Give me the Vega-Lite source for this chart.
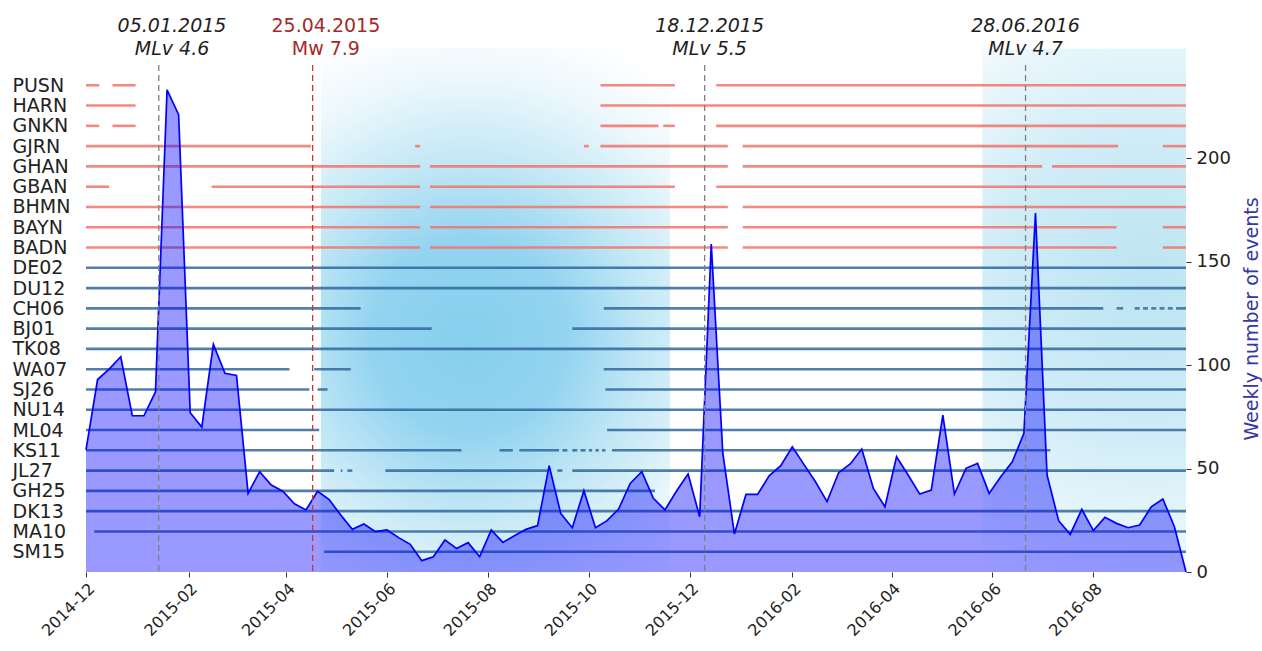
{
  "$schema": "https://vega.github.io/schema/vega-lite/v6.json",
  "width": 1100,
  "height": 507,
  "autosize": {"type": "none"},
  "padding": {"left": 86, "top": 65, "right": 76, "bottom": 79},
  "background": "white",
  "config": {
    "view": {"stroke": null},
    "font": "DejaVu Sans",
    "axis": {"grid": false, "labelFont": "DejaVu Sans", "titleFont": "DejaVu Sans"}
  },
  "datasets": {
    "shading": [
      {"season": "monsoon 2015", "start": "2015-04-22", "end": "2015-11-19"},
      {"season": "monsoon 2016", "start": "2016-05-26", "end": "2016-09-26"}
    ],
    "weekly": [
      {"date": "2014-12-01", "count": 59}, {"date": "2014-12-08", "count": 93}, {"date": "2014-12-15", "count": 98},
      {"date": "2014-12-22", "count": 104}, {"date": "2014-12-29", "count": 75.5}, {"date": "2015-01-05", "count": 75.5},
      {"date": "2015-01-12", "count": 87}, {"date": "2015-01-19", "count": 233}, {"date": "2015-01-26", "count": 221},
      {"date": "2015-02-02", "count": 77}, {"date": "2015-02-09", "count": 70}, {"date": "2015-02-16", "count": 110},
      {"date": "2015-02-23", "count": 96}, {"date": "2015-03-02", "count": 95}, {"date": "2015-03-09", "count": 38},
      {"date": "2015-03-16", "count": 48.5}, {"date": "2015-03-23", "count": 42}, {"date": "2015-03-30", "count": 39},
      {"date": "2015-04-06", "count": 33}, {"date": "2015-04-13", "count": 30}, {"date": "2015-04-20", "count": 39},
      {"date": "2015-04-27", "count": 35}, {"date": "2015-05-04", "count": 27.5}, {"date": "2015-05-11", "count": 20.6},
      {"date": "2015-05-18", "count": 23.2}, {"date": "2015-05-25", "count": 19.5}, {"date": "2015-06-01", "count": 20.3},
      {"date": "2015-06-08", "count": 16.6}, {"date": "2015-06-15", "count": 13.4}, {"date": "2015-06-22", "count": 5.5},
      {"date": "2015-06-29", "count": 7.4}, {"date": "2015-07-06", "count": 15.5}, {"date": "2015-07-13", "count": 11.4},
      {"date": "2015-07-20", "count": 14.2}, {"date": "2015-07-27", "count": 7.4}, {"date": "2015-08-03", "count": 20.3},
      {"date": "2015-08-10", "count": 14.3}, {"date": "2015-08-17", "count": 17.5}, {"date": "2015-08-24", "count": 20.6},
      {"date": "2015-08-31", "count": 22.4}, {"date": "2015-09-07", "count": 51.4}, {"date": "2015-09-14", "count": 28.3},
      {"date": "2015-09-21", "count": 21.4}, {"date": "2015-09-28", "count": 39.3}, {"date": "2015-10-05", "count": 21.4},
      {"date": "2015-10-12", "count": 24.8}, {"date": "2015-10-19", "count": 30.4}, {"date": "2015-10-26", "count": 42.8},
      {"date": "2015-11-02", "count": 48.5}, {"date": "2015-11-09", "count": 35.6}, {"date": "2015-11-16", "count": 30},
      {"date": "2015-11-23", "count": 39.1}, {"date": "2015-11-30", "count": 47.3}, {"date": "2015-12-07", "count": 26.7},
      {"date": "2015-12-14", "count": 158.5}, {"date": "2015-12-21", "count": 57.3}, {"date": "2015-12-28", "count": 18.4},
      {"date": "2016-01-04", "count": 37.5}, {"date": "2016-01-11", "count": 37.5}, {"date": "2016-01-18", "count": 46.5},
      {"date": "2016-01-25", "count": 51.4}, {"date": "2016-02-01", "count": 60.5}, {"date": "2016-02-08", "count": 52},
      {"date": "2016-02-15", "count": 43.6}, {"date": "2016-02-22", "count": 34}, {"date": "2016-02-29", "count": 48},
      {"date": "2016-03-07", "count": 52.2}, {"date": "2016-03-14", "count": 59.4}, {"date": "2016-03-21", "count": 40.4},
      {"date": "2016-03-28", "count": 31.5}, {"date": "2016-04-04", "count": 55.7}, {"date": "2016-04-11", "count": 46.9},
      {"date": "2016-04-18", "count": 37.7}, {"date": "2016-04-25", "count": 39.6}, {"date": "2016-05-02", "count": 75.8},
      {"date": "2016-05-09", "count": 37.7}, {"date": "2016-05-16", "count": 50.1}, {"date": "2016-05-23", "count": 52.5},
      {"date": "2016-05-30", "count": 38}, {"date": "2016-06-06", "count": 46}, {"date": "2016-06-13", "count": 53.3},
      {"date": "2016-06-20", "count": 67}, {"date": "2016-06-27", "count": 173.5}, {"date": "2016-07-04", "count": 46.9},
      {"date": "2016-07-11", "count": 24.8}, {"date": "2016-07-18", "count": 18.2}, {"date": "2016-07-25", "count": 30.3},
      {"date": "2016-08-01", "count": 20}, {"date": "2016-08-08", "count": 26.4}, {"date": "2016-08-15", "count": 23.5},
      {"date": "2016-08-22", "count": 21.4}, {"date": "2016-08-29", "count": 22.7}, {"date": "2016-09-05", "count": 31.5},
      {"date": "2016-09-12", "count": 35.3}, {"date": "2016-09-19", "count": 21.9}, {"date": "2016-09-26", "count": 0}
    ],
    "events": [
      {"date": "2015-01-14", "labelDate": "2015-01-22", "label": "05.01.2015\nMLv 4.6", "kind": "local"},
      {"date": "2015-04-17", "labelDate": "2015-04-25", "label": "25.04.2015\nMw 7.9", "kind": "main"},
      {"date": "2015-12-10", "labelDate": "2015-12-13", "label": "18.12.2015\nMLv 5.5", "kind": "local"},
      {"date": "2016-06-21", "labelDate": "2016-06-21", "label": "28.06.2016\nMLv 4.7", "kind": "local"}
    ],
    "segments": [
      {"st": "PUSN", "net": "red", "start": "2014-12-01", "end": "2014-12-09"},
      {"st": "PUSN", "net": "red", "start": "2014-12-17", "end": "2014-12-31"},
      {"st": "PUSN", "net": "red", "start": "2015-10-08", "end": "2015-11-22"},
      {"st": "PUSN", "net": "red", "start": "2015-12-17", "end": "2016-09-26"},
      {"st": "HARN", "net": "red", "start": "2014-12-01", "end": "2014-12-31"},
      {"st": "HARN", "net": "red", "start": "2015-10-08", "end": "2016-09-26"},
      {"st": "GNKN", "net": "red", "start": "2014-12-01", "end": "2014-12-09"},
      {"st": "GNKN", "net": "red", "start": "2014-12-17", "end": "2014-12-31"},
      {"st": "GNKN", "net": "red", "start": "2015-10-08", "end": "2015-11-12"},
      {"st": "GNKN", "net": "red", "start": "2015-11-15", "end": "2015-11-22"},
      {"st": "GNKN", "net": "red", "start": "2015-12-17", "end": "2016-09-26"},
      {"st": "GJRN", "net": "red", "start": "2014-12-01", "end": "2015-04-16"},
      {"st": "GJRN", "net": "red", "start": "2015-06-18", "end": "2015-06-21"},
      {"st": "GJRN", "net": "red", "start": "2015-09-28", "end": "2015-10-01"},
      {"st": "GJRN", "net": "red", "start": "2015-10-08", "end": "2015-12-24"},
      {"st": "GJRN", "net": "red", "start": "2016-01-02", "end": "2016-08-16"},
      {"st": "GJRN", "net": "red", "start": "2016-09-12", "end": "2016-09-26"},
      {"st": "GHAN", "net": "red", "start": "2014-12-01", "end": "2015-06-21"},
      {"st": "GHAN", "net": "red", "start": "2015-06-27", "end": "2015-12-24"},
      {"st": "GHAN", "net": "red", "start": "2016-01-02", "end": "2016-07-01"},
      {"st": "GHAN", "net": "red", "start": "2016-07-07", "end": "2016-09-26"},
      {"st": "GBAN", "net": "red", "start": "2014-12-01", "end": "2014-12-15"},
      {"st": "GBAN", "net": "red", "start": "2015-02-15", "end": "2015-06-21"},
      {"st": "GBAN", "net": "red", "start": "2015-06-27", "end": "2015-11-22"},
      {"st": "GBAN", "net": "red", "start": "2015-12-17", "end": "2016-09-26"},
      {"st": "BHMN", "net": "red", "start": "2014-12-01", "end": "2015-06-21"},
      {"st": "BHMN", "net": "red", "start": "2015-06-27", "end": "2015-12-24"},
      {"st": "BHMN", "net": "red", "start": "2016-01-02", "end": "2016-09-26"},
      {"st": "BAYN", "net": "red", "start": "2014-12-01", "end": "2015-06-21"},
      {"st": "BAYN", "net": "red", "start": "2015-06-27", "end": "2015-12-24"},
      {"st": "BAYN", "net": "red", "start": "2016-01-02", "end": "2016-08-15"},
      {"st": "BAYN", "net": "red", "start": "2016-09-12", "end": "2016-09-26"},
      {"st": "BADN", "net": "red", "start": "2014-12-01", "end": "2015-06-21"},
      {"st": "BADN", "net": "red", "start": "2015-06-27", "end": "2015-12-24"},
      {"st": "BADN", "net": "red", "start": "2016-01-02", "end": "2016-08-15"},
      {"st": "BADN", "net": "red", "start": "2016-09-12", "end": "2016-09-26"},
      {"st": "DE02", "net": "blue", "start": "2014-12-01", "end": "2016-09-26"},
      {"st": "DU12", "net": "blue", "start": "2014-12-01", "end": "2016-09-26"},
      {"st": "CH06", "net": "blue", "start": "2014-12-01", "end": "2015-05-16"},
      {"st": "CH06", "net": "blue", "start": "2015-10-10", "end": "2016-08-07"},
      {"st": "CH06", "net": "blue", "start": "2016-08-15", "end": "2016-08-19"},
      {"st": "CH06", "net": "blue", "start": "2016-08-26", "end": "2016-08-29"},
      {"st": "CH06", "net": "blue", "start": "2016-08-31", "end": "2016-09-03"},
      {"st": "CH06", "net": "blue", "start": "2016-09-05", "end": "2016-09-08"},
      {"st": "CH06", "net": "blue", "start": "2016-09-10", "end": "2016-09-13"},
      {"st": "CH06", "net": "blue", "start": "2016-09-15", "end": "2016-09-18"},
      {"st": "CH06", "net": "blue", "start": "2016-09-20", "end": "2016-09-26"},
      {"st": "BJ01", "net": "blue", "start": "2014-12-01", "end": "2015-06-28"},
      {"st": "BJ01", "net": "blue", "start": "2015-09-21", "end": "2016-09-26"},
      {"st": "TK08", "net": "blue", "start": "2014-12-01", "end": "2016-09-26"},
      {"st": "WA07", "net": "blue", "start": "2014-12-01", "end": "2015-04-03"},
      {"st": "WA07", "net": "blue", "start": "2015-04-18", "end": "2015-05-10"},
      {"st": "WA07", "net": "blue", "start": "2015-10-10", "end": "2016-09-26"},
      {"st": "SJ26", "net": "blue", "start": "2014-12-01", "end": "2015-04-15"},
      {"st": "SJ26", "net": "blue", "start": "2015-04-20", "end": "2015-04-26"},
      {"st": "SJ26", "net": "blue", "start": "2015-10-11", "end": "2016-09-26"},
      {"st": "NU14", "net": "blue", "start": "2014-12-01", "end": "2016-09-26"},
      {"st": "ML04", "net": "blue", "start": "2014-12-01", "end": "2015-04-21"},
      {"st": "ML04", "net": "blue", "start": "2015-10-12", "end": "2016-09-26"},
      {"st": "KS11", "net": "blue", "start": "2014-12-01", "end": "2015-07-16"},
      {"st": "KS11", "net": "blue", "start": "2015-08-08", "end": "2015-08-16"},
      {"st": "KS11", "net": "blue", "start": "2015-08-20", "end": "2015-09-13"},
      {"st": "KS11", "net": "blue", "start": "2015-09-15", "end": "2015-09-18"},
      {"st": "KS11", "net": "blue", "start": "2015-09-21", "end": "2015-09-24"},
      {"st": "KS11", "net": "blue", "start": "2015-09-26", "end": "2015-09-29"},
      {"st": "KS11", "net": "blue", "start": "2015-10-01", "end": "2015-10-03"},
      {"st": "KS11", "net": "blue", "start": "2015-10-05", "end": "2015-10-07"},
      {"st": "KS11", "net": "blue", "start": "2015-10-09", "end": "2015-10-11"},
      {"st": "KS11", "net": "blue", "start": "2015-10-15", "end": "2016-07-06"},
      {"st": "JL27", "net": "blue", "start": "2014-12-01", "end": "2015-04-30"},
      {"st": "JL27", "net": "blue", "start": "2015-05-04", "end": "2015-05-05"},
      {"st": "JL27", "net": "blue", "start": "2015-05-08", "end": "2015-05-11"},
      {"st": "JL27", "net": "blue", "start": "2015-05-31", "end": "2015-09-06"},
      {"st": "JL27", "net": "blue", "start": "2015-09-12", "end": "2015-09-15"},
      {"st": "JL27", "net": "blue", "start": "2015-09-21", "end": "2016-09-26"},
      {"st": "GH25", "net": "blue", "start": "2014-12-01", "end": "2015-11-10"},
      {"st": "DK13", "net": "blue", "start": "2014-12-01", "end": "2016-09-26"},
      {"st": "MA10", "net": "blue", "start": "2014-12-06", "end": "2016-09-26"},
      {"st": "SM15", "net": "blue", "start": "2015-04-24", "end": "2016-09-26"}
    ]
  },
  "layer": [
    {
      "layer": [
        {
          "data": {"name": "shading"},
          "transform": [{"filter": "datum.season == 'monsoon 2015'"}],
          "mark": {
            "type": "rect",
            "strokeWidth": 0,
            "fill": {
              "gradient": "radial",
              "x1": 0.45, "y1": 0.55, "r1": 0,
              "x2": 0.45, "y2": 0.55, "r2": 0.62,
              "stops": [
                {"offset": 0, "color": "#86cfee"},
                {"offset": 0.3, "color": "#93d4f0"},
                {"offset": 0.55, "color": "#c4e8f6"},
                {"offset": 0.8, "color": "#edf8fc"},
                {"offset": 1, "color": "#ffffff"}
              ]
            }
          },
          "encoding": {
            "x": {"field": "start", "type": "temporal"},
            "x2": {"field": "end"},
            "y": {"datum": 0, "type": "quantitative", "scale": {"domain": [0, 245], "nice": false, "zero": false}, "axis": null},
            "y2": {"datum": 253}
          }
        },
        {
          "data": {"name": "shading"},
          "transform": [{"filter": "datum.season == 'monsoon 2016'"}],
          "mark": {
            "type": "rect",
            "strokeWidth": 0,
            "fill": {
              "gradient": "radial",
              "x1": 0.62, "y1": 0.45, "r1": 0,
              "x2": 0.62, "y2": 0.45, "r2": 0.62,
              "stops": [
                {"offset": 0, "color": "#bce4f3"},
                {"offset": 0.45, "color": "#cfecf7"},
                {"offset": 0.8, "color": "#eaf7fb"},
                {"offset": 1, "color": "#ffffff"}
              ]
            }
          },
          "encoding": {
            "x": {"field": "start", "type": "temporal"},
            "x2": {"field": "end"},
            "y": {"datum": 0, "type": "quantitative", "scale": {"domain": [0, 245], "nice": false, "zero": false}, "axis": null},
            "y2": {"datum": 253}
          }
        }
      ]
    },
    {
      "data": {"name": "segments"},
      "mark": {"type": "rule", "strokeWidth": 2.6, "strokeCap": "butt", "opacity": 0.85},
      "encoding": {
        "x": {"field": "start", "type": "temporal"},
        "x2": {"field": "end"},
        "y": {
          "field": "st",
          "type": "nominal",
          "scale": {
            "type": "point",
            "padding": 1,
            "domain": ["PUSN", "HARN", "GNKN", "GJRN", "GHAN", "GBAN", "BHMN", "BAYN", "BADN", "DE02", "DU12", "CH06", "BJ01", "TK08", "WA07", "SJ26", "NU14", "ML04", "KS11", "JL27", "GH25", "DK13", "MA10", "SM15"]
          },
          "axis": {
            "orient": "left",
            "title": null,
            "domain": false,
            "ticks": false,
            "labelAlign": "left",
            "labelBaseline": "middle",
            "labelPadding": 74,
            "labelFontSize": 19,
            "labelColor": "#222222"
          }
        },
        "color": {
          "field": "net",
          "type": "nominal",
          "scale": {"domain": ["red", "blue"], "range": ["#f3736a", "#33679b"]},
          "legend": null
        }
      }
    },
    {
      "layer": [
        {
          "data": {"name": "weekly"},
          "mark": {"type": "area", "color": "#0000ff", "opacity": 0.4},
          "encoding": {
            "x": {
              "field": "date",
              "type": "temporal",
              "scale": {"type": "utc", "domain": [{"year": 2014, "month": 12, "date": 1, "utc": true}, {"year": 2016, "month": 9, "date": 26, "utc": true}]},
              "axis": {
                "title": null,
                "values": [
                  {"year": 2014, "month": 12, "date": 1, "utc": true},
                  {"year": 2015, "month": 2, "date": 1, "utc": true},
                  {"year": 2015, "month": 4, "date": 1, "utc": true},
                  {"year": 2015, "month": 6, "date": 1, "utc": true},
                  {"year": 2015, "month": 8, "date": 1, "utc": true},
                  {"year": 2015, "month": 10, "date": 1, "utc": true},
                  {"year": 2015, "month": 12, "date": 1, "utc": true},
                  {"year": 2016, "month": 2, "date": 1, "utc": true},
                  {"year": 2016, "month": 4, "date": 1, "utc": true},
                  {"year": 2016, "month": 6, "date": 1, "utc": true},
                  {"year": 2016, "month": 8, "date": 1, "utc": true}
                ],
                "labelExpr": "utcFormat(datum.value, '%Y-%m')",
                "domain": false,
                "tickSize": 5,
                "tickColor": "#333333",
                "labelAngle": -45,
                "labelAlign": "right",
                "labelBaseline": "top",
                "labelFontSize": 16,
                "labelColor": "#222222",
                "labelPadding": 3,
                "labelOverlap": false
              }
            },
            "y": {
              "field": "count",
              "type": "quantitative",
              "scale": {"domain": [0, 245], "nice": false, "zero": false},
              "axis": {
                "orient": "right",
                "values": [0, 50, 100, 150, 200],
                "domain": false,
                "tickSize": 5,
                "tickColor": "#333333",
                "labelFontSize": 18,
                "labelColor": "#222222",
                "labelPadding": 5,
                "title": "Weekly number of events",
                "titleColor": "#3636a6",
                "titleFontSize": 19,
                "titleFontWeight": "normal",
                "titleAngle": 270,
                "titleBaseline": "top",
                "titlePadding": 12
              }
            }
          }
        },
        {
          "data": {"name": "weekly"},
          "mark": {"type": "line", "color": "#0000ff", "strokeWidth": 1.7},
          "encoding": {
            "x": {"field": "date", "type": "temporal"},
            "y": {"field": "count", "type": "quantitative"}
          }
        },
        {
          "data": {"name": "events"},
          "mark": {"type": "rule", "strokeDash": [6, 4], "strokeWidth": 1.3},
          "encoding": {
            "x": {"field": "date", "type": "temporal"},
            "color": {"condition": {"test": "datum.kind == 'main'", "value": "#cc3333"}, "value": "#808080"}
          }
        },
        {
          "data": {"name": "events"},
          "transform": [{"filter": "datum.kind == 'local'"}],
          "mark": {"type": "text", "fontSize": 19, "fontStyle": "italic", "color": "#1e1e1e", "lineBreak": "\n", "lineHeight": 23, "align": "center", "baseline": "alphabetic"},
          "encoding": {
            "x": {"field": "labelDate", "type": "temporal"},
            "y": {"datum": 261, "type": "quantitative"},
            "text": {"field": "label", "type": "nominal"}
          }
        },
        {
          "data": {"name": "events"},
          "transform": [{"filter": "datum.kind == 'main'"}],
          "mark": {"type": "text", "fontSize": 19, "color": "#a52a2a", "lineBreak": "\n", "lineHeight": 23, "align": "center", "baseline": "alphabetic"},
          "encoding": {
            "x": {"field": "labelDate", "type": "temporal"},
            "y": {"datum": 261, "type": "quantitative"},
            "text": {"field": "label", "type": "nominal"}
          }
        },
        {
          "mark": {"type": "rect", "fill": null, "fillOpacity": 0, "stroke": "#3a3a3a", "strokeWidth": 1.6},
          "encoding": {
            "x": {"datum": {"year": 2014, "month": 12, "date": 1, "utc": true}, "type": "temporal"},
            "x2": {"datum": {"year": 2016, "month": 9, "date": 26, "utc": true}},
            "y": {"datum": 0, "type": "quantitative"},
            "y2": {"datum": 245}
          }
        }
      ]
    }
  ],
  "resolve": {"scale": {"y": "independent"}, "axis": {"y": "independent"}}
}
